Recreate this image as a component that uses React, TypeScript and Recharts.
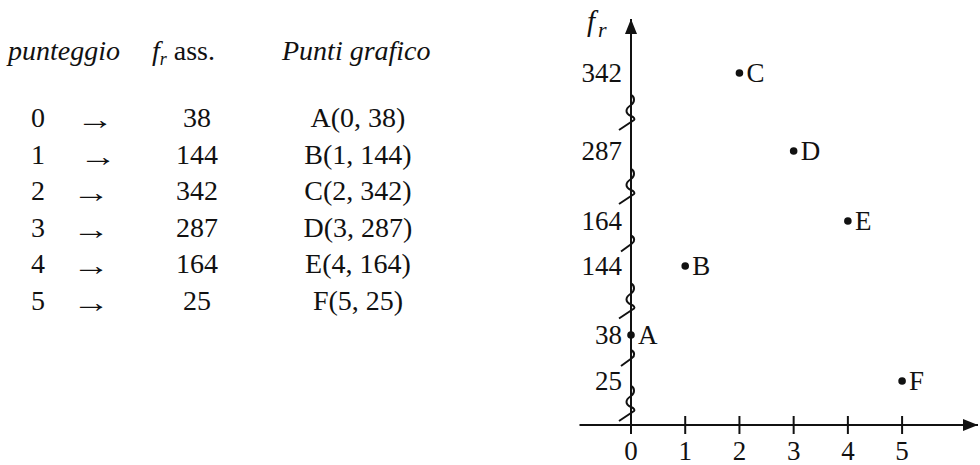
import { ReferenceDot, ReferenceLine, Scatter, ScatterChart, XAxis, YAxis } from "recharts"

const scores = [0, 1, 2, 3, 4, 5]
const freqs = [38, 144, 342, 287, 164, 25]
const pointNames = ["A", "B", "C", "D", "E", "F"]
const xTicks = [0, 1, 2, 3, 4, 5]
const yTicks = [25, 38, 144, 164, 287, 342]

const data = scores.map((score, i) => ({ score, freq: freqs[i], name: pointNames[i] }))

const INK = "#111"
const SERIF = "Liberation Serif, Times New Roman, DejaVu Serif, serif"
const textStyle = { fontFamily: SERIF }

// broken axis: ticks are placed at their own steps, the gaps are cut (zigzags)
const yTop = 380
const yKnots = [0, ...yTicks, yTop]
const yStepPx = [0, 44, 90, 159, 204, 274, 352, 406]

function brokenScale(): any {
  let dom = [yKnots[0], yKnots[yKnots.length - 1]]
  let rng = [0, 1]
  const s: any = (v: number) => {
    let i = 1
    while (i < yKnots.length - 1 && v > yKnots[i]) i++
    const t = (v - yKnots[i - 1]) / (yKnots[i] - yKnots[i - 1])
    const h = (yStepPx[i - 1] + t * (yStepPx[i] - yStepPx[i - 1])) / yStepPx[yStepPx.length - 1]
    return rng[0] + h * (rng[1] - rng[0])
  }
  s.domain = (d?: number[]) => (d ? ((dom = d), s) : dom)
  s.range = (r?: number[]) => (r ? ((rng = r), s) : rng)
  s.copy = () => brokenScale().domain(dom).range(rng)
  s.ticks = () => yTicks
  return s
}

const unitScale = brokenScale()
const breaks = [0, ...yTicks].slice(0, -1).map((v, i) => {
  const next = yTicks[i]
  const gap = unitScale(next) - unitScale(v)
  return { y: (v + next) / 2, small: i > 0 && gap < 0.14 }
})

function XTick({ x, y, payload }: any) {
  return (
    <g>
      <line x1={x} x2={x} y1={y - 9} y2={y + 9} stroke={INK} strokeWidth={2} />
      <text x={x} y={y + 35} textAnchor="middle" fontSize={27} style={textStyle} fill={INK}>
        {payload.value}
      </text>
    </g>
  )
}

function YTick({ x, y, payload }: any) {
  return (
    <text x={x} y={y} dy="0.35em" textAnchor="end" fontSize={27} style={textStyle} fill={INK}>
      {payload.value}
    </text>
  )
}

function PointShape({ cx, cy, payload }: any) {
  return (
    <g>
      <circle cx={cx} cy={cy} r={3.8} fill={INK} />
      <text x={cx + 7} y={cy} dy="0.35em" fontSize={27} style={textStyle} fill={INK}>
        {payload.name}
      </text>
    </g>
  )
}

const zigBig = "M0,-17 C4,-15 4,-10 0,-7 C-6,-3 -6,1 0,4 C3,5 4,7 3,8 L-12,18"
const zigSmall = "M0,-8 C4,-6 4,-2 1,0 L-10,8"

function Zigzag(small: boolean) {
  return ({ cx, cy }: any) => (
    <path
      d={small ? zigSmall : zigBig}
      transform={`translate(${cx},${cy})`}
      fill="none"
      stroke={INK}
      strokeWidth={2}
    />
  )
}

function ArrowUp({ cx, cy }: any) {
  return <path d={`M${cx},${cy} L${cx - 6},${cy + 15} L${cx + 6},${cy + 15} Z`} fill={INK} />
}

function ArrowRight({ cx, cy }: any) {
  return <path d={`M${cx},${cy} L${cx - 15},${cy - 6} L${cx - 15},${cy + 6} Z`} fill={INK} />
}

const colX = [38, 197, 358]
const arrowX = [95, 98, 91, 91, 91, 91]
const rowY0 = 127
const rowStep = 36.6

export default function App() {
  return (
    <div
      style={{
        position: "absolute",
        left: 0,
        top: 0,
        width: 980,
        height: 465,
        background: "#fff",
        fontFamily: SERIF,
      }}
    >
      <ScatterChart
        width={980}
        height={465}
        margin={{ top: 19, right: 2, bottom: 10, left: 571 }}
        style={{ position: "absolute", left: 0, top: 0 }}
      >
        <XAxis
          type="number"
          dataKey="score"
          domain={[0, 6.4]}
          ticks={xTicks}
          interval={0}
          axisLine={false}
          tickLine={false}
          tickSize={0}
          tickMargin={0}
          height={30}
          tick={XTick}
        />
        <YAxis
          type="number"
          dataKey="freq"
          domain={[0, yTop]}
          scale={brokenScale()}
          ticks={yTicks}
          interval={0}
          width={60}
          axisLine={{ stroke: INK, strokeWidth: 2 }}
          tickLine={false}
          tickSize={0}
          tickMargin={9}
          tick={YTick}
        />
        <ReferenceLine
          segment={[
            { x: -0.95, y: 0 },
            { x: 6.4, y: 0 },
          ]}
          ifOverflow="visible"
          stroke={INK}
          strokeWidth={2}
        />
        {breaks.map((b) => (
          <ReferenceDot key={b.y} x={0} y={b.y} ifOverflow="visible" shape={Zigzag(b.small)} />
        ))}
        <ReferenceDot x={0} y={yTop} ifOverflow="visible" shape={ArrowUp} />
        <ReferenceDot x={6.4} y={0} ifOverflow="visible" shape={ArrowRight} />
        <Scatter data={data} shape={PointShape} isAnimationActive={false} />
      </ScatterChart>

      <svg
        width={980}
        height={465}
        style={{ position: "absolute", left: 0, top: 0, pointerEvents: "none", fontFamily: SERIF }}
        fill={INK}
      >
        <text x={8} y={60} fontSize={28} fontStyle="italic" style={textStyle}>
          punteggio
        </text>
        <text x={152} y={60} fontSize={28} style={textStyle}>
          <tspan fontStyle="italic">f</tspan>
          <tspan fontStyle="italic" fontSize={18} dy={5}>
            r
          </tspan>
          <tspan dy={-5}> ass.</tspan>
        </text>
        <text x={282} y={60} fontSize={28} fontStyle="italic" style={textStyle}>
          Punti grafico
        </text>
        {data.map((d, i) => {
          const y = rowY0 + i * rowStep
          return (
            <g key={d.name} fontSize={28} style={textStyle}>
              <text x={colX[0]} y={y} textAnchor="middle">
                {d.score}
              </text>
              <text
                transform={`translate(${arrowX[i]},${y + 2}) scale(1.3,1)`}
                textAnchor="middle"
                fontSize={29}
              >
                →
              </text>
              <text x={colX[1]} y={y} textAnchor="middle">
                {d.freq}
              </text>
              <text x={colX[2]} y={y} textAnchor="middle">
                {`${d.name}(${d.score}, ${d.freq})`}
              </text>
            </g>
          )
        })}
        <text x={587} y={31} fontSize={29} fontStyle="italic" style={textStyle}>
          f
        </text>
        <text x={598} y={37} fontSize={22} fontStyle="italic" style={textStyle}>
          r
        </text>
      </svg>
    </div>
  )
}
